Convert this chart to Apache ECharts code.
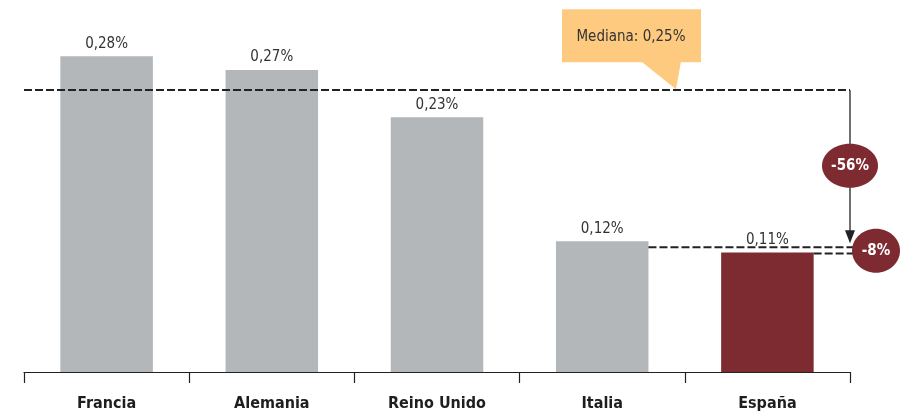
<!DOCTYPE html>
<html>
<head>
<meta charset="utf-8">
<script src="https://cdn.jsdelivr.net/npm/echarts@6/dist/echarts.min.js"></script>
<style>
  html, body { margin: 0; padding: 0; background: #fff; }
  #chart { width: 904px; height: 415px; }
</style>
</head>
<body>
<div id="chart"></div>
<script>
// datos (en %)
var categories = ['Francia', 'Alemania', 'Reino Unido', 'Italia', 'España'];
var values = [0.28, 0.268, 0.226, 0.116, 0.106];
var barColors = ['#b3b7ba', '#b3b7ba', '#b3b7ba', '#b3b7ba', '#7d2b31'];
var median = 0.25;
var medianText = 'Mediana: 0,25%';
var gapLabels = ['-56%', '-8%'];

var FONT = '"Liberation Sans Narrow", "DejaVu Sans Condensed", "Roboto", sans-serif';
var MAROON = '#7d2b31';
var LINE = '#222';

function fmt(v) {
  return v.toFixed(2).replace('.', ',') + '%';
}

var chart = echarts.init(document.getElementById('chart'));

chart.setOption({
  animation: false,
  grid: { left: 24, right: 54, top: 0, bottom: 43 },
  xAxis: {
    type: 'category',
    data: categories,
    axisLine: { lineStyle: { color: '#222', width: 1.2 } },
    axisTick: { show: true, length: 11, lineStyle: { color: '#222', width: 1.2 } },
    axisLabel: {
      color: '#1e1e1e',
      fontFamily: FONT,
      fontWeight: 'bold',
      fontSize: 16,
      margin: 24
    }
  },
  yAxis: {
    type: 'value',
    min: 0,
    max: 0.33,
    show: false,
    splitLine: { show: false }
  },
  series: [{
    type: 'bar',
    data: values,
    barWidth: '56%',
    itemStyle: {
      color: function (p) { return barColors[p.dataIndex]; }
    },
    label: {
      show: true,
      position: 'top',
      distance: 5,
      color: '#333',
      fontFamily: FONT,
      fontSize: 15,
      formatter: function (p) { return fmt(p.value); }
    },
    markLine: {
      silent: true,
      symbol: 'none',
      label: { show: false },
      lineStyle: { color: LINE, type: [8, 3], width: 1.8 },
      data: [{ yAxis: median }]
    }
  }]
});

// anotaciones, posicionadas con las escalas del grafico
function px(i, v) {
  return chart.convertToPixel({ gridIndex: 0 }, [i, v]);
}
var band = px(1, 0)[0] - px(0, 0)[0];
var half = band * 0.56 / 2;
var xRight = px(categories.length - 1, 0)[0] + band / 2;
var yMed = px(0, median)[1];
var pIt = px(3, values[3]);
var pEs = px(4, values[4]);
var yMid = (yMed + pIt[1]) / 2;

var dash = { stroke: LINE, lineWidth: 1.8, lineDash: [8, 3] };

chart.setOption({
  graphic: [
    // linea vertical con flecha
    { type: 'line', z: 10, shape: { x1: xRight, y1: yMed, x2: xRight, y2: pIt[1] - 8 },
      style: { stroke: '#222', lineWidth: 1.3 } },
    { type: 'polygon', z: 10,
      shape: { points: [[xRight - 5, pIt[1] - 11], [xRight + 5, pIt[1] - 11], [xRight, pIt[1] + 2]] },
      style: { fill: '#222' } },
    // lineas Italia / España
    { type: 'line', z: 10, shape: { x1: pIt[0] + half, y1: pIt[1] + 6, x2: xRight + 6, y2: pIt[1] + 6 }, style: dash },
    { type: 'line', z: 10, shape: { x1: pEs[0] + half, y1: pEs[1] + 1, x2: xRight + 6, y2: pEs[1] + 1 }, style: dash },
    // circulos
    { type: 'ellipse', z: 20, shape: { cx: xRight, cy: yMid, rx: 28, ry: 22 }, style: { fill: MAROON } },
    { type: 'text', z: 21, x: xRight, y: yMid,
      style: { text: gapLabels[0], fill: '#fff', font: 'bold 15px ' + FONT, align: 'center', verticalAlign: 'middle' } },
    { type: 'ellipse', z: 20, shape: { cx: xRight + 26, cy: (pIt[1] + pEs[1]) / 2 + 4, rx: 24, ry: 22 }, style: { fill: MAROON } },
    { type: 'text', z: 21, x: xRight + 26, y: (pIt[1] + pEs[1]) / 2 + 4,
      style: { text: gapLabels[1], fill: '#fff', font: 'bold 15px ' + FONT, align: 'center', verticalAlign: 'middle' } },
    // bocadillo de la mediana
    { type: 'rect', z: 15, shape: { x: 562, y: yMed - 81, width: 139, height: 53 }, style: { fill: '#fdca80' } },
    { type: 'polygon', z: 15,
      shape: { points: [[641, yMed - 29], [681, yMed - 29], [676, yMed - 1]] },
      style: { fill: '#fdca80' } },
    { type: 'text', z: 16, x: 631, y: yMed - 53,
      style: { text: medianText, fill: '#333', font: '15px ' + FONT, align: 'center', verticalAlign: 'middle' } }
  ]
});
</script>
</body>
</html>
